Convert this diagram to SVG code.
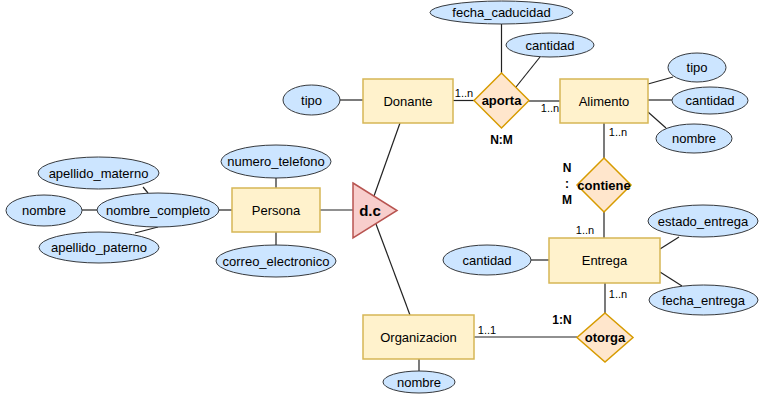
<svg xmlns="http://www.w3.org/2000/svg" width="768" height="403" viewBox="0 0 768 403">
<style>
text{font-family:"Liberation Sans",Arial,sans-serif;fill:#000;text-anchor:middle}
.t{font-size:13px}
.rel{font-size:13px;font-weight:bold}
.card{font-size:11px}
.lbl{font-size:12px;font-weight:bold}
.ent{fill:#fff2cc;stroke:#d6b656;stroke-width:1.5}
.att{fill:#cce5ff;stroke:#36393d;stroke-width:1}
.rhom{fill:#ffe6cc;stroke:#d79b00;stroke-width:1.5}
.tri{fill:#f8cecc;stroke:#b85450;stroke-width:1.5}
#connectors line{stroke:#222;stroke-width:1.2}
</style>
<rect width="768" height="403" fill="#fff"/>
<g id="connectors">
<line x1="501.5" y1="24" x2="501.5" y2="73"/>
<line x1="540" y1="57" x2="516" y2="87"/>
<line x1="340" y1="100" x2="363" y2="100"/>
<line x1="453" y1="100.5" x2="474" y2="100.5"/>
<line x1="529" y1="101" x2="560" y2="101"/>
<line x1="648" y1="84" x2="673" y2="77"/>
<line x1="648" y1="100" x2="672" y2="100"/>
<line x1="648" y1="112" x2="666" y2="128"/>
<line x1="604" y1="123" x2="604" y2="158"/>
<line x1="604" y1="212" x2="604" y2="238"/>
<line x1="531" y1="260" x2="549" y2="260"/>
<line x1="660" y1="249" x2="679" y2="237"/>
<line x1="660" y1="272" x2="682" y2="286"/>
<line x1="605" y1="283" x2="605" y2="313"/>
<line x1="474" y1="337" x2="577" y2="337"/>
<line x1="419" y1="359" x2="419" y2="371"/>
<line x1="400" y1="123" x2="374" y2="196"/>
<line x1="376" y1="224" x2="410" y2="315"/>
<line x1="320" y1="210" x2="353" y2="210"/>
<line x1="276" y1="178" x2="276" y2="188"/>
<line x1="276" y1="232" x2="276" y2="245"/>
<line x1="219" y1="210" x2="232" y2="210"/>
<line x1="82" y1="210" x2="97" y2="210"/>
<line x1="143" y1="187" x2="148" y2="193"/>
<line x1="135" y1="233" x2="158" y2="227"/>
</g>
<g id="Donante"><rect class="ent" x="363" y="79" width="90" height="44"/><text class="t" x="408" y="105.5">Donante</text></g>
<g id="Alimento"><rect class="ent" x="560" y="79" width="88" height="44"/><text class="t" x="604" y="105.5">Alimento</text></g>
<g id="Persona"><rect class="ent" x="232" y="188" width="88" height="44"/><text class="t" x="276" y="214.5">Persona</text></g>
<g id="Entrega"><rect class="ent" x="549" y="238" width="111" height="45"/><text class="t" x="604.5" y="265">Entrega</text></g>
<g id="Organizacion"><rect class="ent" x="363" y="315" width="111" height="44"/><text class="t" x="418.5" y="341.5">Organizacion</text></g>
<g id="aporta"><polygon class="rhom" points="501.5,73 529,100.5 501.5,128 474,100.5"/><text class="rel" x="501.5" y="105">aporta</text></g>
<g id="contiene"><polygon class="rhom" points="604,158 631,185 604,212 577,185"/><text class="rel" x="604" y="189.5">contiene</text></g>
<g id="otorga"><polygon class="rhom" points="605,313 633,337.5 605,362 577,337.5"/><text class="rel" x="605" y="342">otorga</text></g>
<g id="dc"><polygon class="tri" points="353,183 397,210.5 353,238"/><text x="370" y="216" style="font-size:15px;font-weight:bold">d.c</text></g>
<g id="fecha_caducidad"><ellipse class="att" cx="501.5" cy="12.5" rx="71.5" ry="11.5"/><text class="t" x="501.5" y="17">fecha_caducidad</text></g>
<g id="cantidad_aporta"><ellipse class="att" cx="550" cy="45" rx="44" ry="12"/><text class="t" x="550" y="49.5">cantidad</text></g>
<g id="tipo_donante"><ellipse class="att" cx="311.5" cy="100" rx="28.5" ry="15"/><text class="t" x="311.5" y="104.5">tipo</text></g>
<g id="tipo_alimento"><ellipse class="att" cx="697" cy="67.5" rx="29" ry="14.5"/><text class="t" x="697" y="72">tipo</text></g>
<g id="cantidad_alimento"><ellipse class="att" cx="710" cy="100.5" rx="38" ry="13.5"/><text class="t" x="710" y="105">cantidad</text></g>
<g id="nombre_alimento"><ellipse class="att" cx="694" cy="138.5" rx="38" ry="14.5"/><text class="t" x="694" y="143">nombre</text></g>
<g id="numero_telefono"><ellipse class="att" cx="276" cy="161.5" rx="55" ry="16.5"/><text class="t" x="276" y="166">numero_telefono</text></g>
<g id="correo_electronico"><ellipse class="att" cx="276" cy="261" rx="60" ry="16"/><text class="t" x="276" y="265.5">correo_electronico</text></g>
<g id="nombre_completo"><ellipse class="att" cx="158" cy="210" rx="61" ry="17"/><text class="t" x="158" y="214.5">nombre_completo</text></g>
<g id="apellido_materno"><ellipse class="att" cx="98.5" cy="173" rx="60.5" ry="16"/><text class="t" x="98.5" y="177.5">apellido_materno</text></g>
<g id="nombre_persona"><ellipse class="att" cx="44" cy="210.5" rx="38" ry="15.5"/><text class="t" x="44" y="215">nombre</text></g>
<g id="apellido_paterno"><ellipse class="att" cx="99" cy="247.5" rx="60" ry="15.5"/><text class="t" x="99" y="252">apellido_paterno</text></g>
<g id="estado_entrega"><ellipse class="att" cx="703" cy="221" rx="55" ry="16"/><text class="t" x="703" y="225.5">estado_entrega</text></g>
<g id="cantidad_entrega"><ellipse class="att" cx="487" cy="260" rx="44" ry="15"/><text class="t" x="487" y="264.5">cantidad</text></g>
<g id="fecha_entrega"><ellipse class="att" cx="703.5" cy="300" rx="54.5" ry="15"/><text class="t" x="703.5" y="304.5">fecha_entrega</text></g>
<g id="nombre_org"><ellipse class="att" cx="419" cy="382" rx="36" ry="11"/><text class="t" x="419" y="386.5">nombre</text></g>
<g id="labels">
<text class="card" x="464" y="97">1..n</text>
<text class="card" x="550" y="112">1..n</text>
<text class="card" x="618" y="136">1..n</text>
<text class="card" x="585" y="234">1..n</text>
<text class="card" x="618" y="298">1..n</text>
<text class="card" x="487" y="334">1..1</text>
<text class="lbl" x="501.5" y="143.5">N:M</text>
<text class="lbl" x="562" y="323.5">1:N</text>
<text class="lbl" x="567" y="172">N</text>
<text class="lbl" x="567" y="188">:</text>
<text class="lbl" x="567" y="204">M</text>
</g>
</svg>
